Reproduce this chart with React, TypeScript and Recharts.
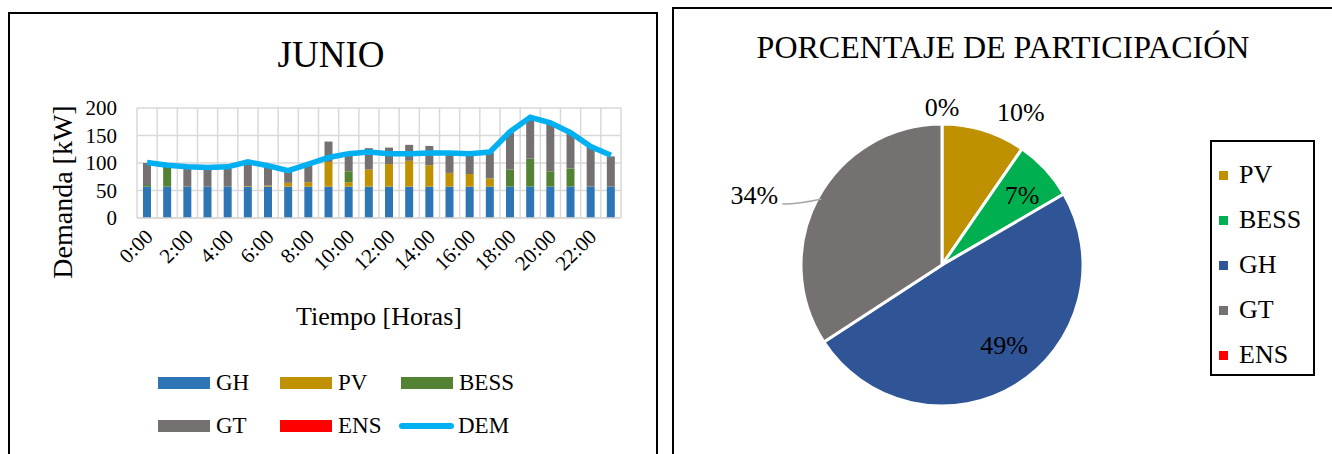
import React from 'react';
import { ComposedChart, Bar, Line, XAxis, YAxis, CartesianGrid, PieChart, Pie, Cell } from 'recharts';

// hourly data
const hours = [
  '0:00', '1:00', '2:00', '3:00', '4:00', '5:00', '6:00', '7:00', '8:00', '9:00', '10:00', '11:00',
  '12:00', '13:00', '14:00', '15:00', '16:00', '17:00', '18:00', '19:00', '20:00', '21:00', '22:00', '23:00',
];
const gh = [57, 57, 57, 57, 57, 57, 57, 57, 57, 57, 57, 57, 57, 57, 57, 57, 57, 57, 57, 57, 57, 57, 57, 57];
const pv = [0, 0, 0, 0, 0, 1, 2, 7, 8, 45, 8, 31, 41, 47, 39, 25, 23, 15, 0, 0, 0, 0, 0, 0];
const bess = [3, 38, 0, 0, 0, 0, 0, 0, 0, 0, 20, 0, 0, 0, 0, 0, 0, 0, 31, 51, 28, 33, 0, 0];
const gt = [40, 0, 36, 35, 36, 44, 36, 22, 32, 37, 31, 39, 30, 29, 35, 34, 36, 47, 67, 73, 87, 64, 73, 55];
const ens = [0, 0, 0, 0, 0, 0, 0, 0, 0, 0, 0, 0, 0, 0, 0, 0, 0, 0, 0, 0, 0, 0, 0, 0];
const dem = [101, 96, 93, 92, 93, 102, 95, 86, 98, 110, 117, 120, 117, 117, 118, 118, 117, 120, 157, 183, 173, 155, 130, 114];
const yTicks = [0, 50, 100, 150, 200];

// share of each source
const pieNames = ['PV', 'BESS', 'GH', 'GT', 'ENS'];
const pieValues = [9.6, 7.0, 49.2, 34.2, 0];

const FONT = '"Liberation Serif", "Times New Roman", serif';

const barColors: Record<string, string> = {
  GH: '#2E75B6',
  PV: '#BF9000',
  BESS: '#548235',
  GT: '#767171',
  ENS: '#FF0000',
};
const pieColors: Record<string, string> = {
  PV: '#BF9000',
  BESS: '#00B050',
  GH: '#2F5597',
  GT: '#767171',
  ENS: '#FF0000',
};
// label placement per slice: radius factor and angle nudge (degrees, counter-clockwise)
const labelPlace: Record<string, { r: number; da: number }> = {
  PV: { r: 1.22, da: -10 },
  BESS: { r: 0.75, da: -2 },
  GH: { r: 0.72, da: 6 },
  GT: { r: 1.42, da: 8 },
  ENS: { r: 1.12, da: 0 },
};

const rows = hours.map((h, i) => ({
  hour: h,
  GH: gh[i],
  PV: pv[i],
  BESS: bess[i],
  GT: gt[i],
  ENS: ens[i],
  DEM: dem[i],
}));

const pieData = pieNames.map((n, i) => ({ name: n, value: pieValues[i] }));

const RAD = Math.PI / 180;

function HourTick(props: any) {
  const { x, y, payload } = props;
  return (
    <g transform={`translate(${x + 7},${y + 12})`}>
      <text x={0} y={0} textAnchor="end" transform="rotate(-45)" fontSize={21} fontFamily={FONT} fill="#000">
        {payload.value}
      </text>
    </g>
  );
}

function PieLabel(props: any) {
  const { cx, cy, midAngle, outerRadius, percent, name } = props;
  const place = labelPlace[name] ?? { r: 1.2, da: 0 };
  const a = (midAngle + place.da) * RAD;
  const r = outerRadius * place.r;
  const x = cx + r * Math.cos(-a);
  const y = cy + r * Math.sin(-a);
  const txt = `${Math.round(percent * 100)}%`;
  let leader = null;
  if (name === 'GT') {
    // short leader from the label to the slice edge
    const ly = y + 9;
    const ey = ly - 5;
    const ex = cx - Math.sqrt(Math.max(outerRadius * outerRadius - (ey - cy) * (ey - cy), 0)) + 4;
    leader = <path d={`M${x + 28},${ly} Q${x + 45},${ly} ${ex},${ey}`} stroke="#a6a6a6" strokeWidth={1.5} fill="none" />;
  }
  return (
    <g>
      {leader}
      <text x={x} y={y} textAnchor="middle" dominantBaseline="central" fontSize={26} fontFamily={FONT} fill="#000">
        {txt}
      </text>
    </g>
  );
}

function Swatch({ color }: { color: string }) {
  return <span style={{ display: 'inline-block', width: 52, height: 12, background: color, marginRight: 6 }} />;
}

export default function App() {
  const legendLeft = [
    { name: 'GH', x: 158, y: 383 },
    { name: 'PV', x: 280, y: 383 },
    { name: 'BESS', x: 401, y: 383 },
    { name: 'GT', x: 158, y: 426 },
    { name: 'ENS', x: 280, y: 426 },
  ];

  return (
    <div style={{ position: 'absolute', left: 0, top: 0, width: 1332, height: 454, overflow: 'hidden', background: '#fff', fontFamily: FONT }}>
      {/* left panel */}
      <div style={{ position: 'absolute', left: 8, top: 12, width: 646, height: 460, border: '2px solid #000' }} />
      {/* right panel */}
      <div style={{ position: 'absolute', left: 672, top: 7, width: 700, height: 470, border: '2px solid #000' }} />

      <div style={{ position: 'absolute', left: 0, top: 34, width: 662, textAlign: 'center', fontSize: 37, lineHeight: '42px' }}>JUNIO</div>

      <div
        style={{
          position: 'absolute',
          left: 63,
          top: 192,
          transform: 'translate(-50%, -50%) rotate(-90deg)',
          fontSize: 28,
          whiteSpace: 'nowrap',
        }}
      >
        Demanda [kW]
      </div>
      <div style={{ position: 'absolute', left: 279, top: 301, width: 200, textAlign: 'center', fontSize: 26, lineHeight: '32px' }}>
        Tiempo [Horas]
      </div>

      <div style={{ position: 'absolute', left: 0, top: 0 }}>
        <ComposedChart width={660} height={454} data={rows} margin={{ top: 108, right: 39, bottom: 176, left: 97 }}>
          <CartesianGrid
            stroke="#d9d9d9"
            strokeWidth={1.5}
            verticalCoordinatesGenerator={({ offset }: any) =>
              Array.from({ length: hours.length + 1 }, (_, i) => offset.left + (i * offset.width) / hours.length)
            }
          />
          <XAxis
            dataKey="hour"
            interval={1}
            height={60}
            tick={<HourTick />}
            tickLine={false}
            axisLine={{ stroke: '#d9d9d9', strokeWidth: 1.5 }}
          />
          <YAxis
            domain={[0, 200]}
            ticks={yTicks}
            interval={0}
            width={40}
            axisLine={false}
            tickLine={false}
            tickMargin={14}
            tick={{ fontSize: 21, fill: '#000', fontFamily: FONT }}
          />
          {['GH', 'PV', 'BESS', 'GT', 'ENS'].map((k) => (
            <Bar key={k} dataKey={k} stackId="a" fill={barColors[k]} barSize={8} isAnimationActive={false} />
          ))}
          <Line dataKey="DEM" type="linear" stroke="#00B0F0" strokeWidth={5.5} dot={false} isAnimationActive={false} />
        </ComposedChart>
      </div>

      {/* left legend */}
      {legendLeft.map((l) => (
        <div
          key={l.name}
          style={{ position: 'absolute', left: l.x, top: l.y - 14, height: 28, lineHeight: '28px', fontSize: 23, display: 'flex', alignItems: 'center' }}
        >
          <Swatch color={barColors[l.name]} />
          {l.name}
        </div>
      ))}
      <div style={{ position: 'absolute', left: 399, top: 412, height: 28, lineHeight: '28px', fontSize: 23, display: 'flex', alignItems: 'center' }}>
        <span style={{ display: 'inline-block', width: 55, height: 6, borderRadius: 3, background: '#00B0F0', marginRight: 4 }} />
        DEM
      </div>

      {/* right chart */}
      <div style={{ position: 'absolute', left: 672, top: 27, width: 662, textAlign: 'center', fontSize: 32, lineHeight: '40px', whiteSpace: 'nowrap' }}>
        PORCENTAJE DE PARTICIPACIÓN
      </div>
      <div style={{ position: 'absolute', left: 680, top: 60 }}>
        <PieChart width={520} height={394}>
          <Pie
            data={pieData}
            dataKey="value"
            nameKey="name"
            cx={257}
            cy={200}
            outerRadius={141}
            startAngle={90}
            endAngle={-270}
            stroke="#fff"
            strokeWidth={3}
            label={PieLabel}
            labelLine={false}
            isAnimationActive={false}
          >
            {pieData.map((d) => (
              <Cell key={d.name} fill={pieColors[d.name]} />
            ))}
          </Pie>
        </PieChart>
      </div>

      <div style={{ position: 'absolute', left: 1210, top: 140, width: 101, height: 232, border: '2px solid #000' }}>
        {pieNames.map((n, i) => (
          <div
            key={n}
            style={{ position: 'absolute', left: 7, top: 18 + i * 45, height: 30, lineHeight: '30px', fontSize: 26, display: 'flex', alignItems: 'center' }}
          >
            <span style={{ display: 'inline-block', width: 9, height: 9, background: pieColors[n], marginRight: 11 }} />
            {n}
          </div>
        ))}
      </div>
    </div>
  );
}
